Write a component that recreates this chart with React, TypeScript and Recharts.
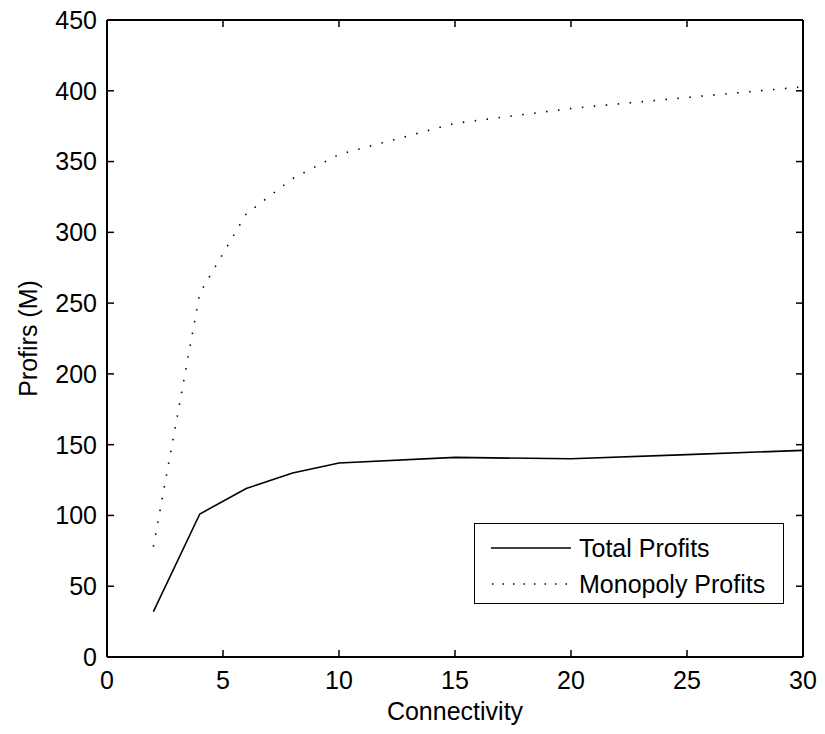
import { LineChart, Line, XAxis, YAxis, Legend } from 'recharts';

const connectivity = [2, 4, 6, 8, 10, 15, 20, 25, 30];
const totalProfits = [32, 101, 119, 130, 137, 141, 140, 143, 146];
const monopolyProfits = [78, 257, 313, 338, 355, 377, 387.5, 395.3, 402.8];

const xTicks = [0, 5, 10, 15, 20, 25, 30];
const yTicks = [0, 50, 100, 150, 200, 250, 300, 350, 400, 450];

const data = connectivity.map((k, i) => ({
  k,
  total: totalProfits[i],
  monopoly: monopolyProfits[i],
}));

const FONT = '"Liberation Sans", Arial, Helvetica, sans-serif';
const tickStyle = { fill: '#000', fontSize: 25, fontFamily: FONT };
const axisLine = { stroke: '#000', strokeWidth: 2 };
const tickLine = { stroke: '#000', strokeWidth: 1.5 };

function LegendBox() {
  return (
    <div
      style={{
        border: '1.5px solid #000',
        background: '#fff',
        width: 310,
        height: 81,
        boxSizing: 'border-box',
        fontFamily: FONT,
        fontSize: 25,
        color: '#000',
        padding: '6px 0 0 16px',
      }}
    >
      <div style={{ display: 'flex', alignItems: 'center', height: 36 }}>
        <svg width={80} height={10} style={{ marginRight: 8 }}>
          <line x1={0} y1={5} x2={80} y2={5} stroke="#000" strokeWidth={1.5} />
        </svg>
        <span>Total Profits</span>
      </div>
      <div style={{ display: 'flex', alignItems: 'center', height: 36 }}>
        <svg width={80} height={10} style={{ marginRight: 8 }}>
          <line x1={1} y1={5} x2={80} y2={5} stroke="#000" strokeWidth={1.5} strokeDasharray="1.5 9" />
        </svg>
        <span>Monopoly Profits</span>
      </div>
    </div>
  );
}

export default function App() {
  return (
    <div style={{ position: 'absolute', left: 0, top: 0, width: 825, height: 734, background: '#fff' }}>
      <LineChart
        width={825}
        height={734}
        data={data}
        margin={{ top: 19, right: 21, bottom: 37, left: 47 }}
      >
        <XAxis
          dataKey="k"
          type="number"
          domain={[0, 30]}
          ticks={xTicks}
          allowDataOverflow
          height={40}
          tick={tickStyle}
          tickSize={-7}
          tickMargin={21}
          axisLine={axisLine}
          tickLine={tickLine}
          label={({ viewBox }: any) => (
            <text
              x={viewBox.x + viewBox.width / 2}
              y={720}
              textAnchor="middle"
              fontSize={25}
              fontFamily={FONT}
              fill="#000"
            >
              Connectivity
            </text>
          )}
        />
        <XAxis
          xAxisId="top"
          dataKey="k"
          orientation="top"
          type="number"
          domain={[0, 30]}
          ticks={xTicks}
          allowDataOverflow
          height={1}
          tickSize={-7}
          tickMargin={0}
          tick={{ fontSize: 0 }}
          tickFormatter={() => ''}
          axisLine={axisLine}
          tickLine={tickLine}
        />
        <YAxis
          type="number"
          domain={[0, 450]}
          ticks={yTicks}
          allowDataOverflow
          width={60}
          tick={tickStyle}
          tickSize={-7}
          tickMargin={17}
          axisLine={axisLine}
          tickLine={tickLine}
          label={({ viewBox }: any) => (
            <text
              x={0}
              y={0}
              transform={`translate(37, ${viewBox.y + viewBox.height / 2}) rotate(-90)`}
              textAnchor="middle"
              fontSize={25}
              fontFamily={FONT}
              fill="#000"
            >
              Profirs (M)
            </text>
          )}
        />
        <YAxis
          yAxisId="right"
          orientation="right"
          type="number"
          domain={[0, 450]}
          ticks={yTicks}
          allowDataOverflow
          width={1}
          tickSize={-7}
          tickMargin={0}
          tick={{ fontSize: 0 }}
          tickFormatter={() => ''}
          axisLine={axisLine}
          tickLine={tickLine}
        />
        <Legend
          layout="vertical"
          align="center"
          verticalAlign="middle"
          content={() => <LegendBox />}
          wrapperStyle={{ position: 'absolute', left: 474, top: 523, width: 310, height: 81 }}
        />
        <Line
          dataKey="total"
          stroke="#000"
          strokeWidth={1.6}
          dot={false}
          isAnimationActive={false}
        />
        <Line
          dataKey="monopoly"
          stroke="#000"
          strokeWidth={1.6}
          strokeDasharray="1.5 10.5"
          dot={false}
          isAnimationActive={false}
        />
        <Line
          dataKey="monopoly"
          xAxisId="top"
          yAxisId="right"
          stroke="none"
          dot={false}
          activeDot={false}
          legendType="none"
          isAnimationActive={false}
        />
      </LineChart>
    </div>
  );
}
